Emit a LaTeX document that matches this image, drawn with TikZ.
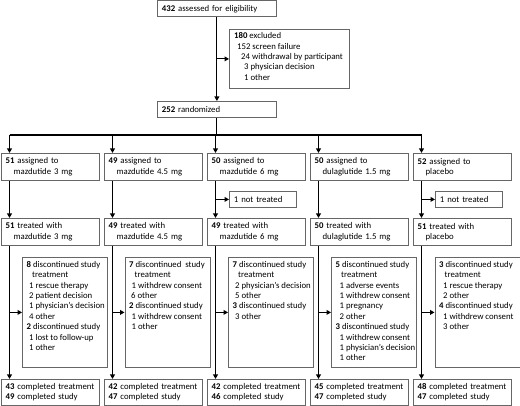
\documentclass[tikz,border=0pt]{standalone}
\usepackage{fontspec}
\setmainfont{Carlito}
\usetikzlibrary{arrows.meta}
\newcommand\diagfont{\fontsize{8.75}{10.4}\selectfont\hyphenpenalty=10000 }
\begin{document}
\begin{tikzpicture}[x=1pt,y=-1pt,
  box/.style={draw=black!60, line width=0.8pt, anchor=north west, inner xsep=4.5pt, inner ysep=0pt, align=left, font=\diagfont},
  colbox/.style={box, inner xsep=4.25pt, minimum width=98pt, text width=89.5pt},
  discbox/.style={draw=black!60, line width=0.8pt, anchor=north west, minimum width=85pt, minimum height=110pt, inner sep=0pt},
  ntbox/.style={box, minimum width=67pt, minimum height=16pt, text width=58pt},
  txt/.style={anchor=north west, inner sep=0pt, align=left, font=\diagfont},
  line/.style={line width=1.1pt, black},
  arr/.style={line, -{Triangle[length=4.5pt,width=4.8pt]}}]
\useasboundingbox (0,0) rectangle (520,406);
% top
\node[box, minimum width=119pt, minimum height=16pt, text width=110pt] (top) at (157,0.5) {\textbf{432} assessed for eligibility};
\node[draw=black!60, line width=0.8pt, anchor=north west, minimum width=120pt, minimum height=59pt, inner sep=0pt] (exc) at (229,29) {};
\node[txt] (exct) at ([xshift=5pt,yshift=-3.4pt]exc.north west) {\textbf{180} excluded\\
\hspace*{3pt}152 screen failure\\
\hspace*{7pt}24 withdrawal by participant\\
\hspace*{10pt}3 physician decision\\
\hspace*{10pt}1 other};
\node[box, minimum width=119pt, minimum height=16.5pt, text width=110pt] (rand) at (157,101) {\textbf{252} randomized};
\draw[arr] (top.south) -- (rand.north);
\draw[arr] (exc.west -| top.south) -- (exc.west);
% columns
\foreach \i/\l in {1/1,2/104,3/207,4/310,5/413}{
  \coordinate (b\i) at (\l+8.5,135);
}
\draw[line] (rand.south) -- (rand.south |- b1);
\draw[line] (b1) -- (b5);

\node[colbox, minimum height=27pt] (a1) at (1,153) {\textbf{51} assigned to\\\hspace*{8pt}mazdutide 3 mg};
\node[colbox, minimum height=27pt] (a2) at (104,153) {\textbf{49} assigned to\\\hspace*{8pt}mazdutide 4.5 mg};
\node[colbox, minimum height=27pt] (a3) at (207,153) {\textbf{50} assigned to\\\hspace*{8pt}mazdutide 6 mg};
\node[colbox, minimum height=27pt] (a4) at (310,153) {\textbf{50} assigned to\\\hspace*{8pt}dulaglutide 1.5 mg};
\node[colbox, minimum height=27pt] (a5) at (413,153) {\textbf{52} assigned to\\\hspace*{8pt}placebo};

\node[ntbox] (n3) at (229,191) {1 not treated};
\node[ntbox] (n5) at (435,191) {1 not treated};

\node[colbox, minimum height=27pt] (t1) at (1,218) {\textbf{51} treated with\\\hspace*{8pt}mazdutide 3 mg};
\node[colbox, minimum height=27pt] (t2) at (104,218) {\textbf{49} treated with\\\hspace*{8pt}mazdutide 4.5 mg};
\node[colbox, minimum height=27pt] (t3) at (207,218) {\textbf{49} treated with\\\hspace*{8pt}mazdutide 6 mg};
\node[colbox, minimum height=27pt] (t4) at (310,218) {\textbf{50} treated with\\\hspace*{8pt}dulaglutide 1.5 mg};
\node[colbox, minimum height=27pt] (t5) at (413,218) {\textbf{51} treated with\\\hspace*{8pt}placebo};

\node[discbox] (d1) at (22,257) {};
\node[discbox] (d2) at (124.5,257) {};
\node[discbox] (d3) at (228,257) {};
\node[discbox] (d4) at (331,257) {};
\node[discbox] (d5) at (434.5,257) {};

\node[txt] (d1t) at ([xshift=4.5pt,yshift=-4pt]d1.north west) {\textbf{8} discontinued study\\
\hspace*{5.5pt}treatment\\
\hspace*{2.5pt}1 rescue therapy\\
\hspace*{2.5pt}2 patient decision\\
\hspace*{2.5pt}1 physician's decision\\
\hspace*{2.5pt}4 other\\
\textbf{2} discontinued study\\
\hspace*{2.5pt}1 lost to follow-up\\
\hspace*{2.5pt}1 other};
\node[txt] (d2t) at ([xshift=4.5pt,yshift=-4pt]d2.north west) {\textbf{7} discontinued\ \ study\\
\hspace*{5.5pt}treatment\\
\hspace*{2.5pt}1 withdrew consent\\
\hspace*{2pt}6 other\\
\textbf{2} discontinued study\\
\hspace*{2.5pt}1 withdrew consent\\
\hspace*{2.5pt}1 other};
\node[txt] (d3t) at ([xshift=4.5pt,yshift=-4pt]d3.north west) {\textbf{7} discontinued study\\
\hspace*{5.5pt}treatment\\
\hspace*{2.5pt}2 physician's decision\\
\hspace*{2.5pt}5 other\\
\textbf{3} discontinued study\\
\hspace*{2.5pt}3 other};
\node[txt] (d4t) at ([xshift=4.5pt,yshift=-4pt]d4.north west) {\textbf{5} discontinued study\\
\hspace*{5.5pt}treatment\\
\hspace*{4pt}1 adverse events\\
\hspace*{4pt}1 withdrew consent\\
\hspace*{4pt}1 pregnancy\\
\hspace*{4pt}2 other\\
\textbf{3} discontinued study\\
\hspace*{4pt}1 withdrew consent\\
\hspace*{4pt}1 physician's decision\\
\hspace*{4pt}1 other};
\node[txt] (d5t) at ([xshift=4.5pt,yshift=-4pt]d5.north west) {\textbf{3} discontinued study\\
\hspace*{5.5pt}treatment\\
\hspace*{4pt}1 rescue therapy\\
\hspace*{4pt}2 other\\
\textbf{4} discontinued study\\
\hspace*{4pt}1 withdrew consent\\
\hspace*{4pt}3 other};

\node[colbox, minimum height=26pt] (c1) at (1,379) {\textbf{43} completed treatment\\\textbf{49} completed study};
\node[colbox, minimum height=26pt] (c2) at (104,379) {\textbf{42} completed treatment\\\textbf{47} completed study};
\node[colbox, minimum height=26pt] (c3) at (207,379) {\textbf{42} completed treatment\\\textbf{46} completed study};
\node[colbox, minimum height=26pt] (c4) at (310,379) {\textbf{45} completed treatment\\\textbf{47} completed study};
\node[colbox, minimum height=26pt] (c5) at (413,379) {\textbf{48} completed treatment\\\textbf{47} completed study};

\foreach \i in {1,...,5}{
  \draw[arr] (b\i) -- (b\i |- a\i.north);
  \draw[arr] (b\i |- a\i.south) -- (b\i |- t\i.north);
  \draw[arr] (b\i |- t\i.south) -- (b\i |- c\i.north);
  \draw[arr] (b\i |- d\i.west) -- (d\i.west);
}
\draw[arr] (b3 |- n3.west) -- (n3.west);
\draw[arr] (b5 |- n5.west) -- (n5.west);
\end{tikzpicture}
\end{document}
